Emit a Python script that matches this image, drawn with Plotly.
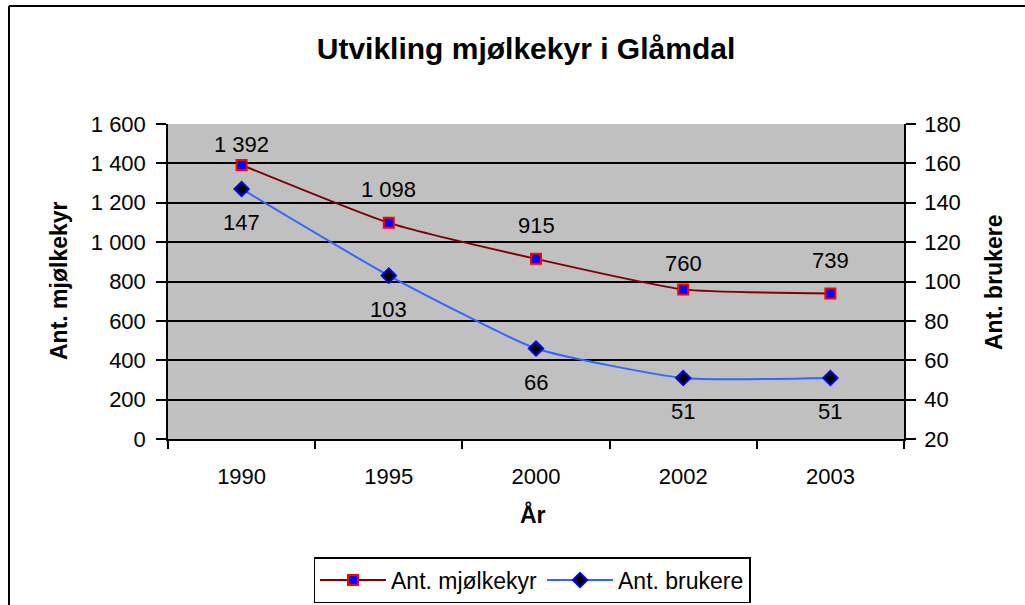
import plotly.graph_objects as go

years = ["1990", "1995", "2000", "2002", "2003"]
kyr = [1392, 1098, 915, 760, 739]
brukere = [147, 103, 66, 51, 51]

# label offsets (pixels) for the data labels
kyr_label_shift = [20, 33, 33, 26, 33]
brukere_label_shift = [-34, -34, -34, -34, -34]

FONT = "Liberation Sans, Arial, sans-serif"


def fmt(v):
    return f"{v:,}".replace(",", " ")


W, H = 1025, 605
L, R, T, B = 168, 904, 124, 439


def px(xp):
    return (xp - L) / (R - L)


def py(yp):
    return (B - yp) / (B - T)


fig = go.Figure()
fig.add_trace(go.Scatter(
    x=years, y=kyr, name="Ant. mjølkekyr", mode="lines+markers",
    line=dict(color="#800000", width=2, shape="spline", smoothing=0.5),
    marker=dict(symbol="square", size=10, color="#0000FF",
                line=dict(color="#FF0000", width=2)),
    yaxis="y",
))
fig.add_trace(go.Scatter(
    x=years, y=brukere, name="Ant. brukere", mode="lines+markers",
    line=dict(color="#3366FF", width=2, shape="spline", smoothing=0.5),
    marker=dict(symbol="diamond", size=11, color="#000000",
                line=dict(color="#0000FF", width=2)),
    yaxis="y2",
))

ann = []
for i, (v, s) in enumerate(zip(kyr, kyr_label_shift)):
    ann.append(dict(x=i, y=v, xref="x", yref="y", text=fmt(v), showarrow=False,
                    xanchor="center", yanchor="middle",
                    yshift=s, font=dict(family=FONT, size=22, color="black")))
for i, (v, s) in enumerate(zip(brukere, brukere_label_shift)):
    ann.append(dict(x=i, y=v, xref="x", yref="y2", text=fmt(v), showarrow=False,
                    xanchor="center", yanchor="middle",
                    yshift=s, font=dict(family=FONT, size=22, color="black")))

ann.append(dict(x=px(59), y=py(281), xref="paper", yref="paper", text="<b>Ant. mjølkekyr</b>",
                xanchor="center", yanchor="middle",
                showarrow=False, textangle=-90, font=dict(family=FONT, size=23, color="black")))
ann.append(dict(x=px(994), y=py(283), xref="paper", yref="paper", text="<b>Ant. brukere</b>",
                xanchor="center", yanchor="middle",
                showarrow=False, textangle=-90, font=dict(family=FONT, size=23, color="black")))
ann.append(dict(x=px(533), y=py(514), xref="paper", yref="paper", text="<b>År</b>",
                xanchor="center", yanchor="middle",
                showarrow=False, font=dict(family=FONT, size=23, color="black")))

fig.update_layout(
    template="none",
    width=W, height=H,
    margin=dict(l=L, r=W - R, t=T, b=H - B, pad=0, autoexpand=False),
    paper_bgcolor="white",
    plot_bgcolor="#C0C0C0",
    separators=", ",
    hovermode=False,
    font=dict(family=FONT, size=22, color="black"),
    title=dict(text="<b>Utvikling mjølkekyr i Glåmdal</b>", x=526 / W, xanchor="center",
               y=1 - 48 / H, yanchor="middle", font=dict(family=FONT, size=30, color="black")),
    xaxis=dict(type="category", showgrid=False, showline=True, linecolor="black", linewidth=1.5,
               ticks="outside", ticklen=8, tickwidth=1.5, tickcolor="black", tickson="boundaries",
               ticklabelstandoff=17, tickfont=dict(family=FONT, size=22), mirror=False,
               range=[-0.5, 4.5], fixedrange=True, zeroline=False, automargin=False),
    yaxis=dict(range=[0, 1600], dtick=200, tick0=0, tickformat=",", showgrid=True,
               gridcolor="black", gridwidth=1.5, showline=True, linecolor="black", linewidth=1.5,
               ticks="outside", ticklen=10, tickwidth=1.5, tickcolor="black",
               ticklabelstandoff=6, tickfont=dict(family=FONT, size=22), zeroline=False,
               automargin=False),
    yaxis2=dict(range=[20, 180], dtick=20, tick0=20, overlaying="y", side="right", showgrid=False,
                showline=True, linecolor="black", linewidth=1.5,
                ticks="outside", ticklen=10, tickwidth=1.5, tickcolor="black",
                ticklabelstandoff=4, tickfont=dict(family=FONT, size=22), zeroline=False,
                automargin=False),
    legend=dict(orientation="h", x=px(532), xanchor="center", y=py(603), yanchor="bottom",
                bordercolor="black", borderwidth=1.5, bgcolor="white",
                font=dict(family=FONT, size=23, color="black"), itemwidth=66,
                tracegroupgap=0),
    annotations=ann,
    shapes=[
        dict(type="line", xref="paper", yref="paper", x0=px(9), x1=px(9), y0=py(6), y1=py(620),
             line=dict(color="black", width=2)),
        dict(type="line", xref="paper", yref="paper", x0=px(9), x1=px(1040), y0=py(6), y1=py(6),
             line=dict(color="black", width=2)),
    ],
    showlegend=True,
)

fig.write_html(
    "out.html",
    config={"displayModeBar": False},
    post_script="document.body.style.margin='0';document.body.style.overflow='hidden';",
)
